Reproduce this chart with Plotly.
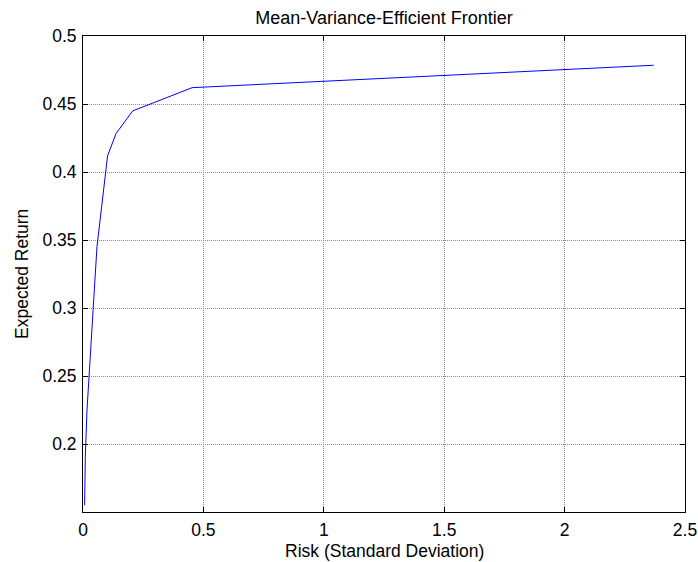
import plotly.graph_objects as go

risk = [0.0067, 0.0096, 0.0166, 0.058, 0.102, 0.137, 0.206, 0.453, 2.37]
ret = [0.155, 0.191, 0.225, 0.345, 0.4118, 0.4282, 0.4449, 0.462, 0.4785]

x_ticks = [0, 0.5, 1, 1.5, 2, 2.5]
x_tick_text = ["0", "0.5", "1", "1.5", "2", "2.5"]
y_ticks = [0.2, 0.25, 0.3, 0.35, 0.4, 0.45, 0.5]
y_tick_text = ["0.2", "0.25", "0.3", "0.35", "0.4", "0.45", "0.5"]

FAM = "Liberation Sans, Arial, sans-serif"
SIZE = 17.5
font = dict(family=FAM, size=SIZE, color="black")

W, H = 698, 562
L, R, T, B = 83, 13, 36, 50

fig = go.Figure()
fig.add_trace(go.Scatter(x=risk, y=ret, mode="lines",
                         line=dict(color="#0000ff", width=1)))

axis_common = dict(showline=True, linecolor="black", linewidth=1, mirror="ticks",
                   ticks="inside", ticklen=5, tickcolor="black",
                   showgrid=True, gridcolor="#8a8a8a", griddash="1px,1px", gridwidth=1,
                   zeroline=False, tickfont=font, automargin=False)

fig.update_layout(
    width=W, height=H,
    margin=dict(l=L, r=R, t=T, b=B),
    paper_bgcolor="white", plot_bgcolor="white",
    showlegend=False,
    title=dict(text="Mean-Variance-Efficient Frontier", x=(L + (W - R)) / 2 / W, xanchor="center",
               y=1 - 18 / H, yanchor="middle", font=dict(family=FAM, size=18, color="black")),
    xaxis=dict(range=[0, 2.5], tickvals=x_ticks, ticktext=x_tick_text,
               ticklabelstandoff=2, **axis_common),
    yaxis=dict(range=[0.15, 0.5], tickvals=y_ticks, ticktext=y_tick_text,
               ticklabelstandoff=2, **axis_common),
    annotations=[
        dict(text="Risk (Standard Deviation)", xref="paper", yref="paper",
             x=0.5, y=0, yshift=-(551 - (H - B)), xanchor="center", yanchor="middle",
             showarrow=False, font=font),
        dict(text="Expected Return", xref="paper", yref="paper",
             x=0, y=0.5, xshift=-(L - 22), xanchor="center", yanchor="middle",
             textangle=-90, showarrow=False, font=font),
    ],
)

fig.write_html("out.html", config={"displayModeBar": False},
               post_script="document.body.style.margin='0px';document.body.style.overflow='hidden';")
